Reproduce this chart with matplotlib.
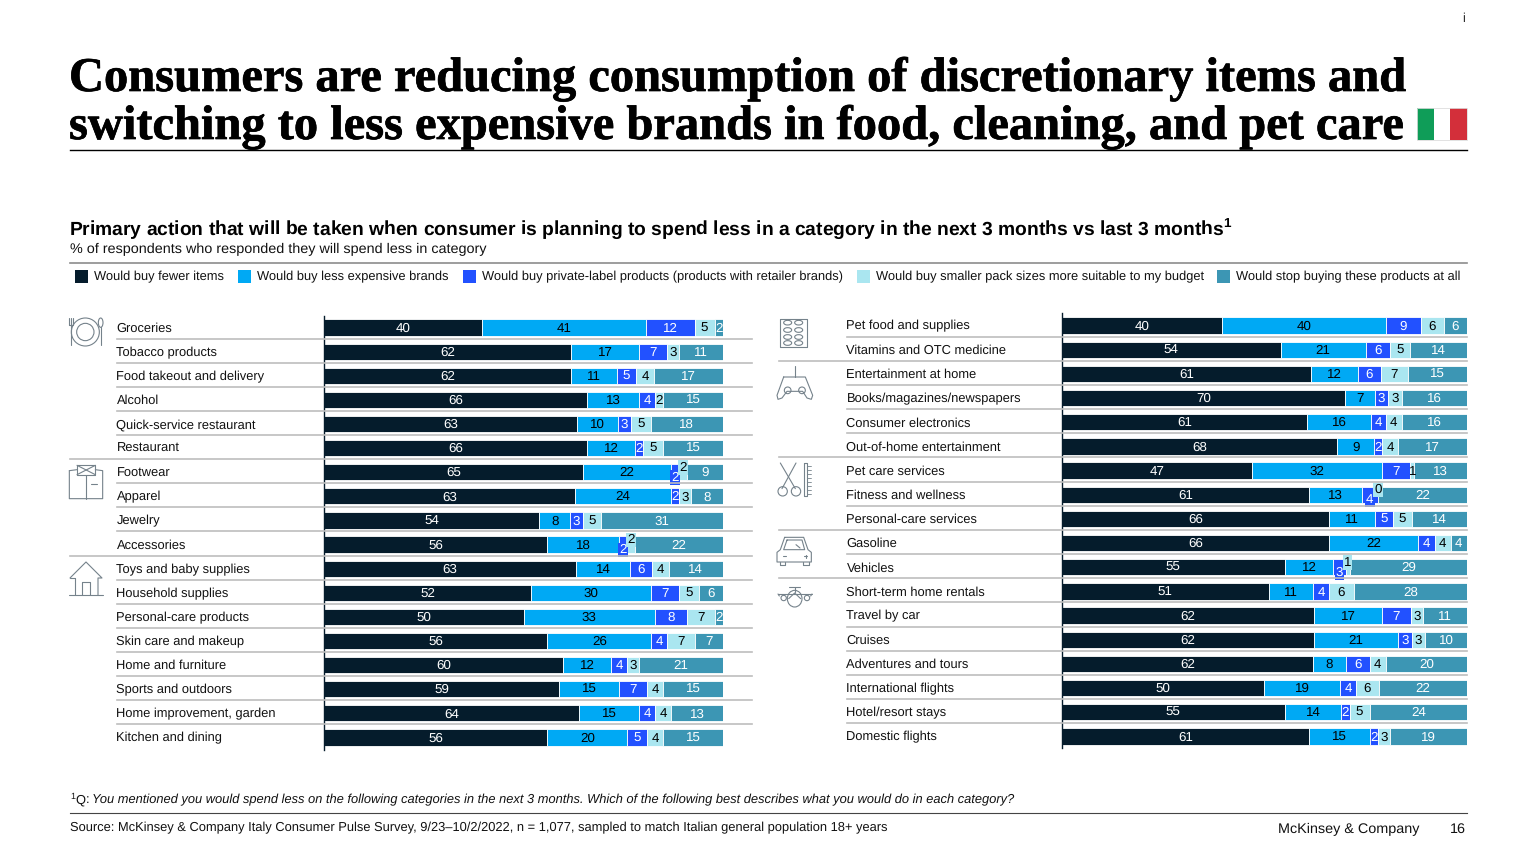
import matplotlib
matplotlib.use("Agg")
import matplotlib.pyplot as plt
import matplotlib.patheffects as pe
from matplotlib.patches import Rectangle, Circle, Ellipse, Polygon, FancyBboxPatch

plt.rcParams['font.family'] = ['Liberation Sans', 'DejaVu Sans']
plt.rcParams['text.hinting'] = 'no_hinting'

SERIES = ["Would buy fewer items", "Would buy less expensive brands",
          "Would buy private-label products (products with retailer brands)",
          "Would buy smaller pack sizes more suitable to my budget",
          "Would stop buying these products at all"]
COLORS = ["#051C2C", "#00A9F4", "#2251FF", "#AAE6F0", "#3C96B4"]
TEXTC = ["white", "black", "white", "black", "white"]

left_cats = ["Groceries", "Tobacco products", "Food takeout and delivery", "Alcohol",
             "Quick-service restaurant", "Restaurant", "Footwear", "Apparel", "Jewelry",
             "Accessories", "Toys and baby supplies", "Household supplies",
             "Personal-care products", "Skin care and makeup", "Home and furniture",
             "Sports and outdoors", "Home improvement, garden", "Kitchen and dining"]
left_fewer = [39.7, 62, 62, 66, 63.4, 66, 65, 63, 54, 56, 63.1, 52, 50, 56, 60, 59, 64, 56]
left_cheaper = [40.9, 17, 11.4, 13, 10.3, 12, 22, 24, 7.7, 18, 13.7, 30, 33, 26, 12, 15, 15, 20]
left_private = [12.3, 7, 4.9, 4, 3.3, 2, 2, 2, 3.1, 2, 5.5, 7, 8, 4, 4, 7, 4, 5]
left_smaller = [5, 3, 4.4, 2, 4.9, 5, 2, 3, 4.6, 2, 4.1, 5, 7, 7, 3, 4, 4, 4]
left_stop = [2.1, 11, 17.3, 15, 18.1, 15, 9, 8, 30.6, 22, 13.6, 6, 2, 7, 21, 15, 13, 15]
left_callouts = [6, 9]

right_cats = ["Pet food and supplies", "Vitamins and OTC medicine", "Entertainment at home",
              "Books/magazines/newspapers", "Consumer electronics", "Out-of-home entertainment",
              "Pet care services", "Fitness and wellness", "Personal-care services", "Gasoline",
              "Vehicles", "Short-term home rentals", "Travel by car", "Cruises",
              "Adventures and tours", "International flights", "Hotel/resort stays",
              "Domestic flights"]
right_fewer = [39.6, 54, 61.4, 69.9, 60.6, 68, 47, 61, 66, 66, 55, 51, 62.1, 62.1, 62, 49.8, 55, 61]
right_cheaper = [40.4, 21, 11.7, 7.4, 15.6, 9, 32, 13, 11.2, 22, 12, 11, 17, 20.9, 8, 18.9, 14, 15]
right_private = [8.6, 6, 5.6, 3.2, 3.8, 2, 7, 4, 4.6, 4, 3, 4, 7, 3.3, 6, 3.8, 2, 2]
right_smaller = [5.7, 5, 6.7, 3.4, 3.9, 4, 1, 0, 4.6, 4, 1, 6, 3, 3.4, 4, 5.8, 5, 3]
right_stop = [5.7, 14, 14.6, 16.1, 16.1, 17, 13, 22, 13.6, 4, 29, 28, 10.9, 10.3, 20, 21.7, 24, 19]
right_callouts = [7, 10]

W, H = 1536, 864
fig = plt.figure(figsize=(W / 100, H / 100), dpi=100, facecolor="white")

ov = fig.add_axes([0, 0, 1, 1], zorder=5)
ov.set_xlim(0, W); ov.set_ylim(H, 0); ov.axis("off"); ov.patch.set_alpha(0)


def panel(x0, x1, top, bottom, cats, cols, label_x, sep_x1, group_rows, sep_start, callouts):
    ax = fig.add_axes([x0 / W, 1 - bottom / H, (x1 - x0) / W, (bottom - top) / H], zorder=3)
    n = len(cats)
    ax.set_xlim(0, 100); ax.set_ylim(n - 0.5, -0.5)
    ax.patch.set_alpha(0)
    for s in ["top", "right", "bottom"]:
        ax.spines[s].set_visible(False)
    ax.spines["left"].set_linewidth(1.0); ax.spines["left"].set_color("#051C2C")
    ax.set_xticks([]); ax.set_yticks([])
    step = (bottom - top) / n
    for r in range(n):
        start = 0
        for k, col in enumerate(cols):
            v = col[r]
            ax.barh(r, v, left=start, height=16.2 / step, color=COLORS[k],
                    edgecolor="white", linewidth=0.6)
            dy = 0
            bbox = None
            if r in callouts and k == 2:
                dy = 0.19
                bbox = dict(facecolor=COLORS[k], edgecolor="none", pad=0.8)
            if r in callouts and k == 3:
                dy = -0.23
                bbox = dict(facecolor=COLORS[k], edgecolor="none", pad=0.8)
            ax.text(start + v / 2, r + dy + 0.03, str(round(v)), ha="center", va="center",
                    fontsize=9.6, color=TEXTC[k], bbox=bbox, zorder=4 if bbox else 3)
            start += v
        yc = top + step * (r + 0.5)
        ov.text(label_x, yc + 0.8, cats[r], ha="left", va="center", fontsize=9.3, color="#111111")
        if r < n - 1:
            xs = sep_start if (r + 1) in group_rows else label_x
            ov.plot([xs, sep_x1], [yc + 11, yc + 11], color="#bdbdbd", lw=1.2, zorder=1)


panel(324, 723, 315.5, 749.5, left_cats,
      [left_fewer, left_cheaper, left_private, left_smaller, left_stop],
      116.5, 752, {6, 10}, 70, left_callouts)
panel(1062, 1467, 313.5, 748.5, right_cats,
      [right_fewer, right_cheaper, right_private, right_smaller, right_stop],
      846.5, 1467, {2, 6, 9, 11}, 779, right_callouts)

# Title and headers
stroke = [pe.withStroke(linewidth=0.5, foreground="black")]
ov.text(69, 91, "Consumers are reducing consumption of discretionary items and", family="Liberation Serif",
        weight="bold", fontsize=34.9, va="baseline", ha="left", color="black", path_effects=stroke)
ov.text(69, 139, "switching to less expensive brands in food, cleaning, and pet care", family="Liberation Serif",
        weight="bold", fontsize=34.9, va="baseline", ha="left", color="black", path_effects=stroke)
ov.text(1464, 18.5, "i", fontsize=9, ha="center", va="center", color="#222222")
ov.plot([70, 1467], [149.5, 149.5], color="black", lw=1.0)
ov.add_patch(Rectangle((1417, 108), 16.5, 32, fc="#0F9D58", ec="none"))
ov.add_patch(Rectangle((1433.5, 108), 16.5, 32, fc="white", ec="none"))
ov.add_patch(Rectangle((1450, 108), 16.5, 32, fc="#D32F3A", ec="none"))
ov.add_patch(Rectangle((1417, 108), 49.5, 32, fc="none", ec="#dddddd", lw=0.6))

ov.text(69.3, 228.5, "Primary action that will be taken when consumer is planning to spend less in a category in the next 3 months vs last 3 months$^{\\mathregular{1}}$",
        fontsize=13.85, weight="bold", va="center", color="black")
ov.text(70, 249, "% of respondents who responded they will spend less in category", fontsize=10.35, va="center", color="#111111")
ov.plot([70, 1467], [262.5, 262.5], color="#8c8c8c", lw=1.2)

# Legend
lx = [75, 238, 463, 857, 1217]
for x, name, c in zip(lx, SERIES, COLORS):
    ov.add_patch(Rectangle((x, 269.5), 13, 13, fc=c, ec="none"))
    ov.text(x + 19, 276.6, name, fontsize=9.25, va="center", color="#111111")

# Footer
ov.text(70, 799.5, "$^{\\mathregular{1}}$Q:", fontsize=9.25, va="center", color="#111111")
ov.text(92, 800, "You mentioned you would spend less on the following categories in the next 3 months. Which of the following best describes what you would do in each category?",
        fontsize=9.25, style="italic", va="center", color="#111111")
ov.plot([70, 1467], [813, 813], color="#444444", lw=0.8)
ov.text(70, 828, "Source: McKinsey & Company Italy Consumer Pulse Survey, 9/23\u201310/2/2022, n = 1,077, sampled to match Italian general population 18+ years",
        fontsize=9.3, va="center", color="#111111")
ov.text(1278, 829.5, "McKinsey & Company", fontsize=10.35, va="center", color="#111111")
ov.text(1466, 829.5, "16", fontsize=10.35, va="center", ha="right", color="#111111")

# Icons, in reference-crop coordinates (3x crops) mapped back to pixels
IC = "#75828b"
LW = 0.8


def ipts(origin, pts):
    return [(origin[0] + x / 3, origin[1] + y / 3) for x, y in pts]


def iline(origin, pts, closed=False, lw=LW):
    p = ipts(origin, pts)
    if closed:
        p = p + [p[0]]
    ov.plot([a for a, _ in p], [b for _, b in p], color=IC, lw=lw, solid_capstyle="round")


def icirc(origin, c, r):
    x, y = ipts(origin, [c])[0]
    ov.add_patch(Circle((x, y), r / 3, fc="white", ec=IC, lw=LW))


def iell(origin, c, w, h):
    x, y = ipts(origin, [c])[0]
    ov.add_patch(Ellipse((x, y), w / 3, h / 3, fc="white", ec=IC, lw=LW))


# plate and cutlery
o = (62, 312)
for fx in (21, 27, 33):
    iline(o, [(fx, 18), (fx, 40)])
iline(o, [(21, 40), (33, 40)])
iline(o, [(27, 40), (27, 100)])
icirc(o, (70, 60), 42)
icirc(o, (70, 60), 26)
iell(o, (116, 32), 14, 28)
iline(o, [(116, 46), (116, 100)])

# shirt
o = (62, 458)
iline(o, [(22, 38), (22, 122), (122, 122), (122, 38), (100, 35)])
iline(o, [(22, 38), (45, 35)])
iline(o, [(45, 22), (100, 22), (100, 50), (45, 50)], closed=True)
iline(o, [(45, 22), (100, 50)])
iline(o, [(100, 22), (45, 50)])
iline(o, [(72, 50), (72, 122)])
iline(o, [(88, 79), (106, 79)])

# house
iline(o, [(24, 360), (72, 312), (120, 360), (108, 360), (108, 412)])
iline(o, [(24, 360), (38, 360), (38, 412)])
iline(o, [(60, 412), (60, 372), (84, 372), (84, 412)])
iline(o, [(22, 412), (124, 412)])

# pills
o = (772, 312)
iline(o, [(25, 20), (104, 20), (104, 106), (25, 106)], closed=True)
for py in (32, 54, 75, 93):
    for px in (47, 80):
        iell(o, (px, py), 24, 14)

# game controller
iline(o, [(68, 163), (68, 195)])
iline(o, [(35, 195), (100, 195), (122, 250), (118, 262), (105, 258), (92, 238), (45, 238),
          (30, 258), (18, 262), (15, 250)], closed=True)
icirc(o, (47, 235), 10)
icirc(o, (90, 235), 10)

# scissors and comb
o = (772, 458)
iline(o, [(25, 15), (70, 92)])
iline(o, [(72, 15), (30, 92)])
icirc(o, (32, 100), 14)
icirc(o, (72, 100), 14)
iline(o, [(95, 15), (95, 115), (105, 115), (105, 15)], closed=True)
for ty in range(25, 110, 12):
    iline(o, [(105, ty), (116, ty)], lw=0.6)

# car
iline(o, [(38, 238), (95, 238), (108, 275), (118, 283), (118, 312), (15, 312), (15, 283), (25, 275)], closed=True)
iline(o, [(45, 246), (90, 246), (98, 275), (35, 275)], closed=True)
iline(o, [(72, 260), (84, 270)])
iline(o, [(24, 312), (24, 322), (40, 322), (40, 312)])
iline(o, [(92, 312), (92, 322), (110, 322), (110, 312)])
iline(o, [(34, 295), (43, 295)])
iline(o, [(96, 295), (105, 295)])
iline(o, [(100.5, 290), (100.5, 300)])

# plane
iline(o, [(50, 388), (85, 388)])
iline(o, [(68, 388), (68, 402)])
iline(o, [(18, 408), (120, 408)])
iline(o, [(18, 408), (22, 414)])
iline(o, [(120, 408), (116, 414)])
icirc(o, (35, 420), 8)
icirc(o, (105, 420), 8)
iell(o, (68, 422), 44, 50)
iline(o, [(50, 422), (68, 405), (86, 422)])

fig.savefig("out.png", dpi=100, facecolor="white")
